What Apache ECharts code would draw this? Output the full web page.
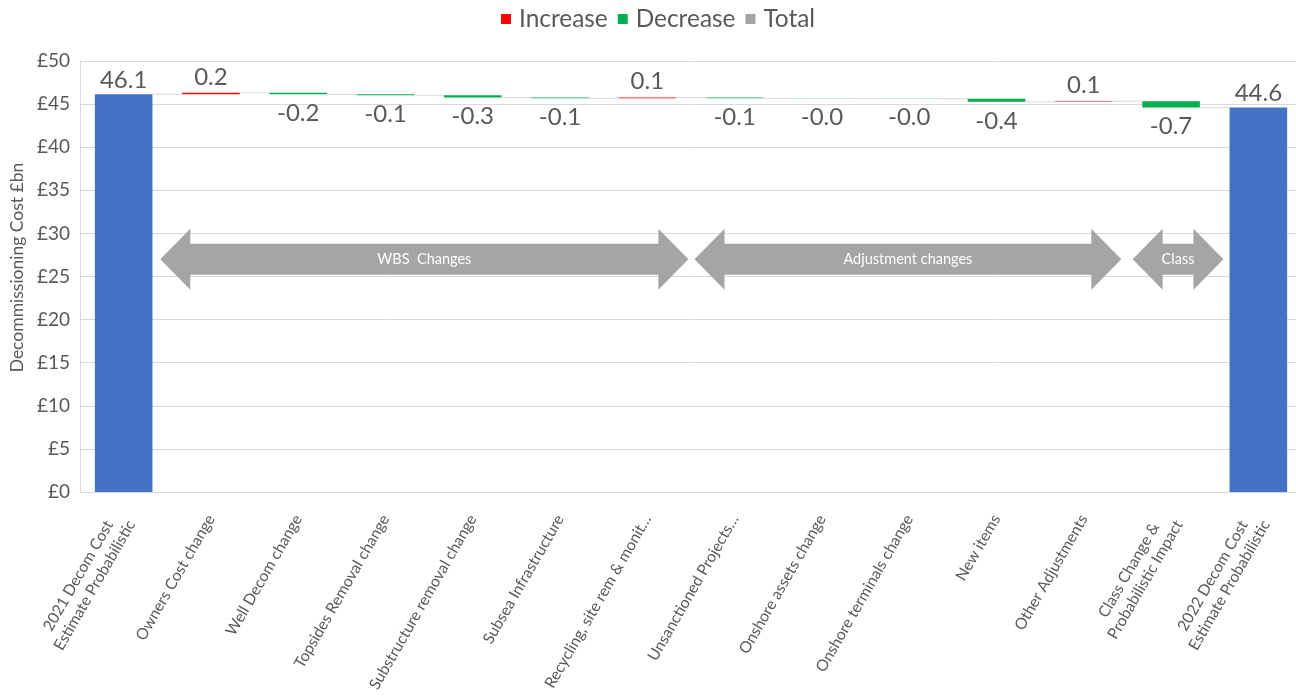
<!DOCTYPE html>
<html><head><meta charset="utf-8">
<script src="https://cdn.jsdelivr.net/npm/echarts@6/dist/echarts.min.js"></script>
<style>html,body{margin:0;padding:0;background:#fff}#c{width:1296px;height:698px}</style>
</head><body><div id="c"></div>
<script>
// ---------- data ----------
const categories = [
  '2021 Decom Cost\nEstimate Probabilistic',
  'Owners Cost change',
  'Well Decom change',
  'Topsides Removal change',
  'Substructure removal change',
  'Subsea Infrastructure',
  'Recycling, site rem & monit…',
  'Unsanctioned Projects…',
  'Onshore assets change',
  'Onshore terminals change',
  'New items',
  'Other Adjustments',
  'Class Change &\nProbabilistic Impact',
  '2022 Decom Cost\nEstimate Probabilistic'
];
const startTotal = 46.14;
const changes = [0.17, -0.18, -0.10, -0.26, -0.10, 0.09, -0.09, -0.03, -0.02, -0.36, 0.08, -0.72];
const endTotal = 44.62;
const legendNames = ['Increase', 'Decrease', 'Total'];
const yMin = 0, yMax = 50, yStep = 5;
// annotation arrows (category-index spans, value level)
const groupLabels = ['WBS  Changes', 'Adjustment changes', 'Class'];
const groupFrom = [0.42, 6.54, 11.56];
const groupTo = [6.47, 11.43, 12.6];
const groupLevel = 27;

// ---------- styles ----------
const FONT = 'Lato';
const TXT = '#595959';
const C_INC = '#FF0000', C_DEC = '#00B050', C_TOT = '#4472C4', C_TOT_LEG = '#A5A5A5';
const BAR_FRAC = 0.66;

// size category labels so the longest label spans ~199px (as in the reference)
const cv = document.createElement('canvas').getContext('2d');
cv.font = '18px ' + FONT;
const refW = cv.measureText('Substructure removal change').width;
const AX_FS = Math.round(18 * 199 / refW * 10) / 10;
const LH = Math.round(AX_FS * 1.2);

// ---------- build waterfall ----------
const n = categories.length;
const base = [], inc = [], dec = [], tot = [], conn = [];
let cum = startTotal;
tot.push(startTotal); base.push(0); inc.push('-'); dec.push('-');
conn.push([0, cum]);
changes.forEach((c, k) => {
  const before = cum, after = cum + c;
  base.push(Math.min(before, after));
  inc.push(c > 0 ? c : '-');
  dec.push(c < 0 ? -c : '-');
  tot.push('-');
  cum = after;
  conn.push([k + 1, cum]);
});
base.push(0); inc.push('-'); dec.push('-'); tot.push(endTotal);

// centered multi-line labels via rich text
cv.font = AX_FS + 'px ' + FONT;
const rich = {};
categories.forEach((c, i) => {
  if (c.indexOf('\n') >= 0) {
    const w = Math.max(...c.split('\n').map(s => cv.measureText(s).width));
    rich['c' + i] = { width: Math.ceil(w) + 1, align: 'center', fontSize: AX_FS, fontFamily: FONT, color: TXT, lineHeight: LH };
  }
});

const chart = echarts.init(document.getElementById('c'));
const labelCommon = { show: true, fontFamily: FONT, fontSize: 24, color: TXT };
chart.setOption({
  animation: false,
  legend: {
    top: 2, left: 496, itemWidth: 10, itemHeight: 10, itemGap: 10,
    textStyle: { fontFamily: FONT, fontSize: 24.4, color: TXT, padding: [0, 0, 0, 3] },
    data: [
      { name: legendNames[0], icon: 'rect', itemStyle: { color: C_INC } },
      { name: legendNames[1], icon: 'rect', itemStyle: { color: C_DEC } },
      { name: legendNames[2], icon: 'rect', itemStyle: { color: C_TOT_LEG } }
    ]
  },
  grid: { left: 80, top: 61, width: 1222, bottom: 206, containLabel: false, outerBoundsMode: 'none' },
  xAxis: {
    type: 'category', data: categories,
    axisLine: { lineStyle: { color: '#D9D9D9' } },
    axisTick: { show: false },
    axisLabel: {
      interval: 0, rotate: 60, align: 'right', verticalAlign: 'middle', margin: 24,
      fontFamily: FONT, fontSize: AX_FS, color: TXT, lineHeight: LH, rich: rich,
      formatter: (v, i) => {
        if (v.indexOf('\n') >= 0) return v.split('\n').map(s => '{c' + i + '|' + s + '}').join('\n');
        return v;
      }
    }
  },
  yAxis: {
    type: 'value', min: yMin, max: yMax, interval: yStep,
    name: 'Decommissioning Cost £bn', nameLocation: 'middle', nameGap: 52, nameRotate: 90,
    nameTextStyle: { fontFamily: FONT, fontSize: 17.5, color: TXT, padding: [0, 0, 0, 18] },
    axisLine: { show: true, lineStyle: { color: '#D9D9D9' } },
    axisTick: { show: false },
    axisLabel: { fontFamily: FONT, fontSize: 19, color: TXT, margin: 10, formatter: v => '£' + v },
    splitLine: { lineStyle: { color: '#D9D9D9' } }
  },
  series: [
    { name: 'base', type: 'bar', stack: 'w', data: base, barWidth: (BAR_FRAC * 100) + '%',
      itemStyle: { color: 'transparent' }, emphasis: { disabled: true }, silent: true },
    { name: legendNames[0], type: 'bar', stack: 'w', data: inc, itemStyle: { color: C_INC },
      label: Object.assign({}, labelCommon, { position: 'top', distance: 4, formatter: p => p.value.toFixed(1) }) },
    { name: legendNames[1], type: 'bar', stack: 'w', data: dec, itemStyle: { color: C_DEC },
      label: Object.assign({}, labelCommon, { position: 'bottom', distance: 7, formatter: p => '-' + p.value.toFixed(1) }) },
    { name: legendNames[2], type: 'bar', stack: 'w', data: tot, itemStyle: { color: C_TOT },
      label: Object.assign({}, labelCommon, { position: 'top', distance: 2, formatter: p => p.value.toFixed(1) }) },
    { name: 'conn', type: 'custom', data: conn, silent: true, z: 1,
      renderItem: (params, api) => {
        const i = api.value(0), lv = api.value(1);
        const p1 = api.coord([i, lv]), p2 = api.coord([i + 1, lv]);
        const hw = api.size([1, 0])[0] * BAR_FRAC / 2;
        return { type: 'line', shape: { x1: p1[0] + hw, y1: p1[1], x2: p2[0] - hw, y2: p2[1] },
          style: { stroke: '#D9D9D9', lineWidth: 1 } };
      } }
  ]
});

// arrows (annotations) placed with the chart's own scales
const p0 = chart.convertToPixel({ xAxisIndex: 0, yAxisIndex: 0 }, [0, groupLevel]);
const p1 = chart.convertToPixel({ xAxisIndex: 0, yAxisIndex: 0 }, [1, groupLevel]);
const step = p1[0] - p0[0], yc = p0[1];
const HL = 30, HH = 30.5, HS = 15.5;
const gfx = [];
groupLabels.forEach((t, k) => {
  const xa = p0[0] + groupFrom[k] * step, xb = p0[0] + groupTo[k] * step;
  gfx.push({ type: 'polygon', z: 5, shape: { points: [
    [xa, yc], [xa + HL, yc - HH], [xa + HL, yc - HS], [xb - HL, yc - HS], [xb - HL, yc - HH],
    [xb, yc], [xb - HL, yc + HH], [xb - HL, yc + HS], [xa + HL, yc + HS], [xa + HL, yc + HH]
  ] }, style: { fill: '#A5A5A5' } });
  gfx.push({ type: 'text', z: 6, x: (xa + xb) / 2, y: yc, style: { text: t, fill: '#FFFFFF',
    font: '14.5px ' + FONT, align: 'center', verticalAlign: 'middle' } });
});
chart.setOption({ graphic: gfx });
</script></body></html>
